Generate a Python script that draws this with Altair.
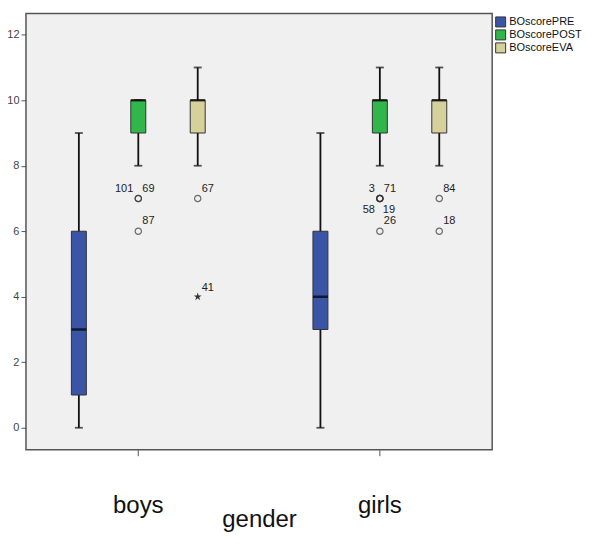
import altair as alt
import pandas as pd

# ---- data ----
genders = ["boys", "girls"]
variables = ["BOscorePRE", "BOscorePOST", "BOscoreEVA"]
colors = ["#3a55a6", "#31b64b", "#d6d19b"]

box_gender = ["boys", "boys", "boys", "girls", "girls", "girls"]
box_variable = variables * 2
whisker_low = [0, 8, 8, 0, 8, 8]
q1 = [1, 9, 9, 3, 9, 9]
median = [3, 10, 10, 4, 10, 10]
q3 = [6, 10, 10, 6, 10, 10]
whisker_high = [9, 10, 11, 9, 11, 11]

out_gender = ["boys", "boys", "boys", "boys",
              "girls", "girls", "girls", "girls", "girls", "girls", "girls"]
out_variable = ["BOscorePOST", "BOscorePOST", "BOscorePOST", "BOscoreEVA",
                "BOscorePOST", "BOscorePOST", "BOscorePOST", "BOscorePOST", "BOscorePOST",
                "BOscoreEVA", "BOscoreEVA"]
out_value = [7, 7, 6, 7, 7, 7, 7, 7, 6, 7, 6]
out_case = ["101", "69", "87", "67", "3", "71", "58", "19", "26", "84", "18"]
out_place = ["left", "right", "right", "right", "left", "right", "lowleft", "lowright",
             "right", "right", "right"]

ext_gender = ["boys"]
ext_variable = ["BOscoreEVA"]
ext_value = [4]
ext_case = ["41"]

y_ticks = [0, 2, 4, 6, 8, 10, 12]

# ---- tables ----
box_df = pd.DataFrame({"gender": box_gender, "variable": box_variable,
                       "lo": whisker_low, "q1": q1, "med": median, "q3": q3, "hi": whisker_high})
out_df = pd.DataFrame({"gender": out_gender, "variable": out_variable,
                       "value": out_value, "case": out_case, "place": out_place})
ext_df = pd.DataFrame({"gender": ext_gender, "variable": ext_variable,
                       "value": ext_value, "case": ext_case})

FONT = "Liberation Sans"
yscale = alt.Scale(domain=[-0.67, 12.65], nice=False, zero=False)
xscale = alt.Scale(domain=genders, paddingInner=0.262, paddingOuter=0.096)
oscale = alt.Scale(domain=variables, paddingInner=0, paddingOuter=0)

X = alt.X("gender:N", scale=xscale, title="gender",
          axis=alt.Axis(labelAngle=0, labelFontSize=24, labelFont=FONT, labelColor="#111",
                        labelBaseline="alphabetic", labelPadding=57,
                        titleFontSize=24, titleFont=FONT, titleFontWeight="normal",
                        titleColor="#111", titleY=77, titleBaseline="alphabetic",
                        tickSize=6, tickColor="#555", domain=False))
XO = alt.XOffset("variable:N", scale=oscale)


def Y(field, axis=False):
    if axis:
        return alt.Y(field, scale=yscale, title=None,
                     axis=alt.Axis(values=y_ticks, labelFontSize=11, labelFont=FONT,
                                   labelColor="#444", tickColor="#555", tickSize=5,
                                   labelPadding=2, domain=False, grid=False))
    return alt.Y(field, scale=yscale, title=None)


whisk = alt.Chart(box_df).mark_rule(color="#111", strokeWidth=1.8).encode(
    x=X, xOffset=XO, y=Y("lo:Q", axis=True), y2="hi:Q")
cap_lo = alt.Chart(box_df).mark_tick(color="#111", size=8, thickness=1.8).encode(
    x=X, xOffset=XO, y=Y("lo:Q"))
cap_hi = alt.Chart(box_df).mark_tick(color="#111", size=8, thickness=1.8).encode(
    x=X, xOffset=XO, y=Y("hi:Q"))
boxes = alt.Chart(box_df).mark_bar(size=15, stroke="#333", strokeWidth=1).encode(
    x=X, xOffset=XO, y=Y("q1:Q"), y2="q3:Q",
    color=alt.Color("variable:N", scale=alt.Scale(domain=variables, range=colors),
                    legend=alt.Legend(title=None, orient="none", legendX=470, legendY=3,
                                      symbolType="square", symbolSize=100,
                                      symbolStrokeColor="#333", symbolStrokeWidth=1,
                                      labelFontSize=11, labelFont=FONT, labelColor="#111",
                                      labelOffset=3, rowPadding=-2, padding=0)))
meds = alt.Chart(box_df).mark_tick(color="black", size=15, thickness=2.5).encode(
    x=X, xOffset=XO, y=Y("med:Q"))

circles = alt.Chart(out_df).mark_point(shape="circle", size=40, filled=False,
                                       stroke="#333", strokeWidth=1.2).encode(
    x=X, xOffset=XO, y=Y("value:Q"))

star_path = ("M0,-1L0.22,-0.3L0.95,-0.31L0.36,0.12L0.59,0.81L0,0.38L-0.59,0.81"
             "L-0.36,0.12L-0.95,-0.31L-0.22,-0.3Z")
stars = alt.Chart(ext_df).mark_point(shape=star_path, size=70, filled=True,
                                     color="#333", opacity=1).encode(
    x=X, xOffset=XO, y=Y("value:Q"))


def labels(place, align, dx, dy):
    return alt.Chart(out_df).transform_filter(alt.datum.place == place).mark_text(
        align=align, baseline="alphabetic", dx=dx, dy=dy, fontSize=11, font=FONT,
        color="#222").encode(x=X, xOffset=XO, y=Y("value:Q"), text="case:N")


lab_r = labels("right", "left", 4, -7)
lab_l = labels("left", "right", -5, -7)
lab_ll = labels("lowleft", "right", -5, 15)
lab_lr = labels("lowright", "left", 3, 15)
lab_ext = alt.Chart(ext_df).mark_text(align="left", baseline="alphabetic", dx=4, dy=-6,
                                      fontSize=11, font=FONT, color="#222").encode(
    x=X, xOffset=XO, y=Y("value:Q"), text="case:N")

chart = alt.layer(whisk, cap_lo, cap_hi, boxes, meds, circles, stars,
                  lab_r, lab_l, lab_ll, lab_lr, lab_ext).properties(
    width=467, height=437, autosize="none",
    padding={"left": 18, "top": 5, "right": 100, "bottom": 90},
    background="white",
).configure_view(fill="#f0f0f0", stroke="#555", strokeWidth=1.5)

chart.save("out.html", embed_options={"renderer": "svg", "actions": False})
